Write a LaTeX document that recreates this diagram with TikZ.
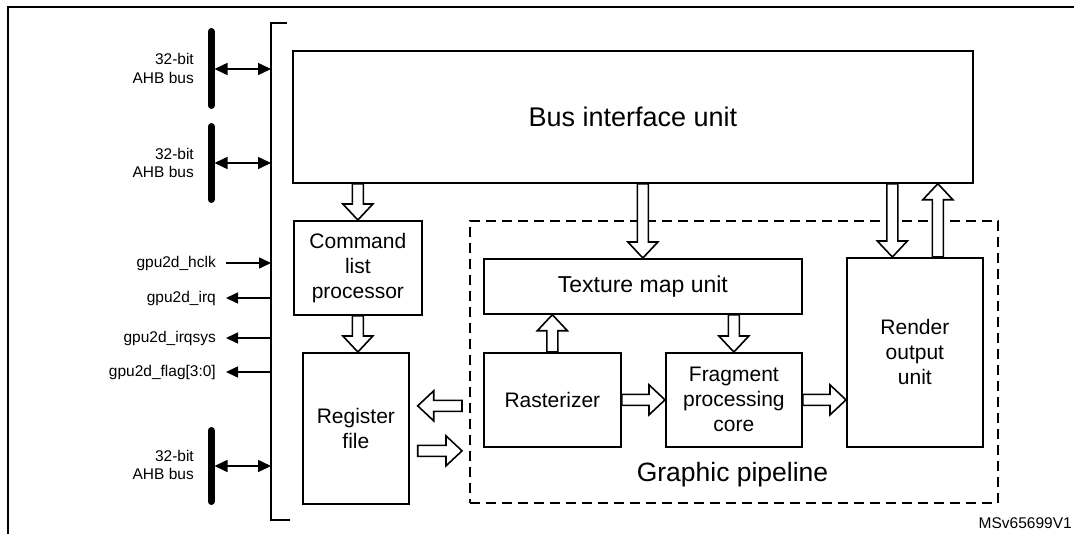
\documentclass[tikz,border=0pt]{standalone}
\usepackage{fontspec}
\setmainfont{Liberation Sans}
\usetikzlibrary{calc,arrows.meta}

\newcommand\blockarr[2]{%
  \path (#1) coordinate (ba-s) (#2) coordinate (ba-t);
  \path ($(ba-t)!16pt!(ba-s)$) coordinate (ba-b);
  \draw[blockarrow]
    ($(ba-s)!5.5pt!90:(ba-t)$) --
    ($(ba-b)!5.5pt!90:(ba-t)$) --
    ($(ba-b)!15pt!90:(ba-t)$) --
    (ba-t) --
    ($(ba-b)!15pt!-90:(ba-t)$) --
    ($(ba-b)!5.5pt!-90:(ba-t)$) --
    ($(ba-s)!5.5pt!-90:(ba-t)$) -- cycle;
}

\begin{document}
\begin{tikzpicture}[x=1pt,y=-1pt,
  box/.style={draw,line width=1.7pt,inner sep=0pt,align=center,anchor=north west,
    font=\fontsize{21}{25}\selectfont},
  blockarrow/.style={draw,fill=white,line width=1.6pt,line join=miter},
  busbar/.style={line width=7pt,line cap=round},
  dblarrow/.style={line width=1.6pt,{Triangle[length=13pt,width=12pt]}-{Triangle[length=13pt,width=12pt]}},
  sigarrow/.style={line width=1.6pt,-{Triangle[length=12pt,width=11pt]}},
  small/.style={font=\fontsize{15.5}{18.5}\selectfont,inner sep=0pt},
]
\useasboundingbox (0,0) rectangle (1074,533);

% outer frame (only top and left visible)
\draw[line width=2.6pt] (1090,7) -- (8,7) -- (8,545);

% bracket
\draw[line width=1.9pt] (287,23) -- (271,23) -- (271,520) -- (290,520);

% bus bars
\draw[busbar] (211,31.5) -- (211,105.5);
\draw[busbar] (211,126.5) -- (211,199.5);
\draw[busbar] (211,430.5) -- (211,501.5);

\coordinate (bus1) at (214.5,69);
\coordinate (bus2) at (214.5,163);
\coordinate (bus3) at (214.5,466);
\coordinate (brk1) at (271,69);
\coordinate (brk2) at (271,163);
\coordinate (brk3) at (271,466);
\draw[dblarrow] (bus1) -- (brk1);
\draw[dblarrow] (bus2) -- (brk2);
\draw[dblarrow] (bus3) -- (brk3);

\node[small,align=right,anchor=east] (l1) at (194,68.5) {32-bit\\AHB bus};
\node[small,align=right,anchor=east] (l2) at (194,163) {32-bit\\AHB bus};
\node[small,align=right,anchor=east] (l3) at (194,465) {32-bit\\AHB bus};

% signals
\node[small,anchor=east] (s1) at (216,263) {gpu2d\_hclk};
\node[small,anchor=east] (s2) at (216,298) {gpu2d\_irq};
\node[small,anchor=east] (s3) at (216,338) {gpu2d\_irqsys};
\node[small,anchor=east] (s4) at (216,372) {gpu2d\_flag[3:0]};
\coordinate (e1) at (271,263);
\coordinate (e2) at (271,298);
\coordinate (e3) at (271,338);
\coordinate (e4) at (271,372);
\draw[sigarrow] (s1.east -| 226,0) -- (e1);
\draw[sigarrow] (e2) -- (s2.east -| 226,0);
\draw[sigarrow] (e3) -- (s3.east -| 226,0);
\draw[sigarrow] (e4) -- (s4.east -| 226,0);

% boxes
\node[box,minimum width=680pt,minimum height=132pt,font=\fontsize{27}{31}\selectfont] (biu) at (292,50) {Bus interface unit};
\node[box,minimum width=128pt,minimum height=94pt] (clp) at (293,220) {Command\\list\\processor};
\node[box,minimum width=106pt,minimum height=151pt] (reg) at (302,352) {Register\\file};
\node[draw,line width=1.6pt,dash pattern=on 10pt off 6pt,inner sep=0pt,anchor=north west,minimum width=528pt,minimum height=282pt] (pipe) at (469,220) {};
\node[box,minimum width=318pt,minimum height=55pt,font=\fontsize{23}{27}\selectfont] (tmu) at (483,258) {Texture map unit};
\node[box,minimum width=137pt,minimum height=94pt] (ras) at (483,352) {Rasterizer};
\node[box,minimum width=136pt,minimum height=94pt] (fpc) at (665,352) {Fragment\\processing\\core};
\node[box,minimum width=136pt,minimum height=189pt] (rou) at (846,257) {Render\\output\\unit};
\node[inner sep=0pt,font=\fontsize{26.5}{30}\selectfont] (gp) at (732.5,475) {Graphic pipeline};
\node[small,anchor=east] (code) at (1072,523) {MSv65699V1};

% block arrows
\blockarr{biu.south -| clp.north}{clp.north}
\blockarr{clp.south}{clp.south |- reg.north}
\blockarr{biu.south -| tmu.north}{tmu.north}
\blockarr{ras.north}{ras.north |- tmu.south}
\blockarr{fpc.north |- tmu.south}{fpc.north}
\blockarr{ras.east}{ras.east -| fpc.west}
\blockarr{fpc.east}{fpc.east -| rou.west}
\coordinate (r1) at ($(rou.north)+(-22.5,0)$);
\coordinate (r2) at ($(rou.north)+(23,0)$);
\blockarr{r1 |- biu.south}{r1}
\blockarr{r2}{r2 |- biu.south}
\coordinate (g1) at ($(reg.east)+(8,-22.5)$);
\coordinate (g2) at ($(reg.east)+(8,22.5)$);
\blockarr{$(pipe.west |- g1)+(-7,0)$}{g1}
\blockarr{g2}{$(pipe.west |- g2)+(-7,0)$}
\end{tikzpicture}
\end{document}
